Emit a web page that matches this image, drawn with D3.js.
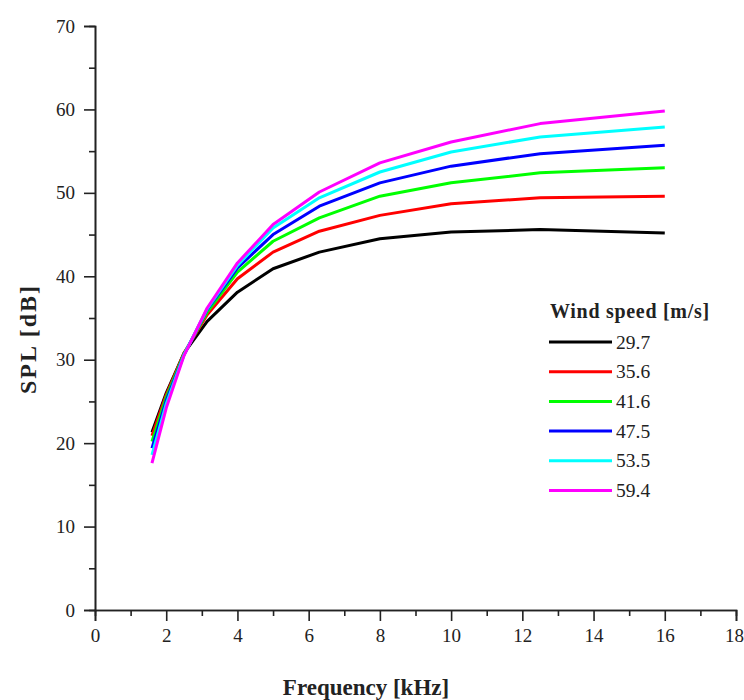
<!DOCTYPE html>
<html><head><meta charset="utf-8">
<script src="https://cdn.jsdelivr.net/npm/d3@7"></script>
<style>body{margin:0;background:#fff}svg{display:block}text{font-family:"Liberation Serif","Times New Roman",serif;fill:#222}</style>
</head><body><svg id="c" width="744" height="700"></svg>
<script>
const freqs = [1.6, 2, 2.5, 3.15, 4, 5, 6.3, 8, 10, 12.5, 16];
const speeds = ["29.7", "35.6", "41.6", "47.5", "53.5", "59.4"];
const colors = ["#000000", "#ff0000", "#00ff00", "#0000ff", "#00ffff", "#ff00ff"];
const s297 = [21.3, 26.0, 30.8, 34.6, 38.1, 40.9, 42.9, 44.5, 45.3, 45.6, 45.2];
const s356 = [20.9, 25.8, 30.8, 35.4, 39.7, 42.9, 45.4, 47.3, 48.7, 49.4, 49.6];
const s416 = [20.2, 25.5, 30.7, 35.7, 40.5, 44.2, 47.0, 49.6, 51.2, 52.4, 53.0];
const s475 = [19.4, 25.1, 30.6, 36.0, 41.0, 45.0, 48.4, 51.2, 53.2, 54.7, 55.7];
const s535 = [18.6, 24.7, 30.6, 36.1, 41.3, 45.8, 49.4, 52.5, 54.9, 56.7, 57.9];
const s594 = [17.6, 24.2, 30.5, 36.2, 41.6, 46.2, 50.1, 53.6, 56.1, 58.3, 59.8];
const seriesValues = [s297, s356, s416, s475, s535, s594];
const xTicks = [0, 2, 4, 6, 8, 10, 12, 14, 16, 18];
const yTicks = [0, 10, 20, 30, 40, 50, 60, 70];

const svg = d3.select("#c");
const L = 95, R = 736, T = 26, B = 610;
const x = d3.scaleLinear().domain([0, 18]).range([L, R]);
const y = d3.scaleLinear().domain([0, 70]).range([B, T]);

svg.append("g").attr("transform", `translate(0,${B})`)
  .call(d3.axisBottom(x).tickValues(d3.range(1, 18, 2)).tickSize(6).tickFormat(""));
const gx = svg.append("g").attr("transform", `translate(0,${B})`)
  .call(d3.axisBottom(x).tickValues(xTicks).tickSize(11).tickPadding(8).tickFormat(d3.format("d")));
gx.selectAll(".tick text").filter(d => d === 18).attr("dx", -2);
svg.append("g").attr("transform", `translate(${L},0)`)
  .call(d3.axisLeft(y).tickValues(d3.range(5, 70, 10)).tickSize(6).tickFormat(""));
svg.append("g").attr("transform", `translate(${L},0)`)
  .call(d3.axisLeft(y).tickValues(yTicks).tickSize(11).tickPadding(9).tickFormat(d3.format("d")));
svg.selectAll(".domain").attr("stroke", "#222").attr("stroke-width", 1.6);
svg.selectAll(".tick line").attr("stroke", "#222").attr("stroke-width", 1.6);
svg.selectAll(".tick text").attr("font-size", 19).attr("fill", "#333");

const line = d3.line().x((d, i) => x(freqs[i])).y(d => y(d));
seriesValues.forEach((vals, k) => {
  svg.append("path").datum(vals).attr("d", line)
    .attr("fill", "none").attr("stroke", colors[k]).attr("stroke-width", 3)
    .attr("stroke-linejoin", "round");
});

svg.append("text").attr("x", 366).attr("y", 695).attr("text-anchor", "middle")
  .attr("font-size", 23).attr("font-weight", "bold").text("Frequency [kHz]");
svg.append("text").attr("transform", "translate(36,339) rotate(-90)").attr("text-anchor", "middle")
  .attr("font-size", 24).attr("font-weight", "bold").attr("letter-spacing", 2).text("SPL [dB]");

const lg = svg.append("g");
lg.append("text").attr("x", 550).attr("y", 318).attr("font-size", 20).attr("font-weight", "bold")
  .attr("letter-spacing", 0.7).text("Wind speed [m/s]");
speeds.forEach((s, k) => {
  const yy = 342 + k * 29.7;
  lg.append("line").attr("x1", 549).attr("x2", 612).attr("y1", yy).attr("y2", yy)
    .attr("stroke", colors[k]).attr("stroke-width", 3);
  lg.append("text").attr("x", 616).attr("y", yy + 6.5).attr("font-size", 19.5).text(s);
});
</script></body></html>
